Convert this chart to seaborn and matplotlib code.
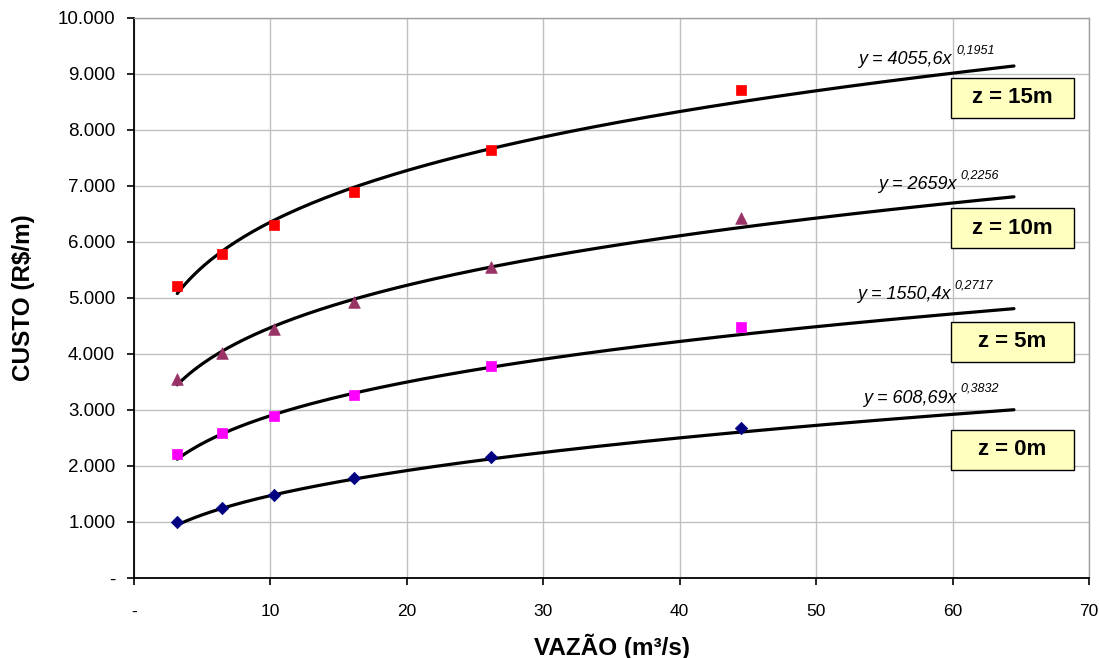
import numpy as np
import pandas as pd
import matplotlib
matplotlib.use("Agg")
import matplotlib.pyplot as plt
from matplotlib.patches import Rectangle
from matplotlib.ticker import FuncFormatter
import seaborn as sns

# ---- data ----
vazao = [3.17, 6.47, 10.26, 16.15, 26.2, 44.5]
custo_z0 = [1005, 1245, 1482, 1780, 2166, 2673]
custo_z5 = [2209, 2583, 2893, 3268, 3786, 4488]
custo_z10 = [3559, 4023, 4446, 4923, 5548, 6434]
custo_z15 = [5220, 5786, 6304, 6893, 7643, 8709]
series_names = ["z = 0m", "z = 5m", "z = 10m", "z = 15m"]
coef_a = [608.69, 1550.4, 2659, 4055.6]
coef_b = [0.3832, 0.2717, 0.2256, 0.1951]
eq_main = ["y = 608,69x", "y = 1550,4x", "y = 2659x", "y = 4055,6x"]
eq_sup = ["0,3832", "0,2717", "0,2256", "0,1951"]
trend_x_end = 64.5
x_ticks = [0, 10, 20, 30, 40, 50, 60, 70]
y_ticks = [0, 1000, 2000, 3000, 4000, 5000, 6000, 7000, 8000, 9000, 10000]

# ---- styling ----
colors = ["#000080", "#FF00FF", "#993366", "#FF0000"]
markers = ["D", "s", "^", "s"]
msizes = [40, 60, 70, 60]
eq_pos = [(53.4, 3214), (53.0, 5054), (54.5, 7018), (53.1, 9250)]
box_y = [449.7, 341.7, 228.0, 97.5]  # pixel centres

sns.set_theme(style="whitegrid")
plt.rcParams["font.family"] = ["Liberation Sans", "DejaVu Sans"]
plt.rcParams["text.color"] = "black"
plt.rcParams["axes.labelcolor"] = "black"
plt.rcParams["xtick.color"] = "black"
plt.rcParams["ytick.color"] = "black"

W, H = 1099, 658
fig = plt.figure(figsize=(W / 100, H / 100), dpi=100)
ax = fig.add_axes([134 / W, 80 / H, (1089 - 134) / W, (578 - 18) / H])
ax.set_facecolor("white")

all_y = [custo_z0, custo_z5, custo_z10, custo_z15]
rows = []
for name, ys in zip(series_names, all_y):
    for xv, yv in zip(vazao, ys):
        rows.append({"vazao": xv, "custo": yv, "serie": name})
df = pd.DataFrame(rows)

trend_rows = []
for name, a, b in zip(series_names, coef_a, coef_b):
    xs = np.linspace(vazao[0], trend_x_end, 200)
    for xv in xs:
        trend_rows.append({"vazao": xv, "custo": a * xv ** b, "serie": name})
dft = pd.DataFrame(trend_rows)

for i, name in enumerate(series_names):
    sns.lineplot(data=dft[dft.serie == name], x="vazao", y="custo", ax=ax,
                 color="black", lw=2.3, zorder=3, legend=False)
for i, name in enumerate(series_names):
    sns.scatterplot(data=df[df.serie == name], x="vazao", y="custo", ax=ax,
                    color=colors[i], marker=markers[i], s=msizes[i],
                    edgecolor=colors[i], linewidth=0.5, zorder=4, legend=False)

ax.set_xlim(0, 70)
ax.set_ylim(0, 10000)
ax.set_xticks(x_ticks)
ax.set_yticks(y_ticks)

def yfmt(v, p):
    if abs(v) < 1e-9:
        return "-"
    return f"{int(round(v)):,}".replace(",", ".")

def xfmt(v, p):
    if abs(v) < 1e-9:
        return "-"
    return f"{int(round(v))}"

ax.yaxis.set_major_formatter(FuncFormatter(yfmt))
ax.xaxis.set_major_formatter(FuncFormatter(xfmt))
ax.tick_params(axis="both", colors="black", direction="out",
               length=5, width=1.2, left=True, bottom=True)
ax.tick_params(axis="x", pad=14, labelsize=12.5)
ax.tick_params(axis="y", pad=8.5, labelsize=13.5)

ax.grid(True, color="#C0C0C0", lw=1.0)
for s in ["left", "bottom"]:
    ax.spines[s].set_color("black")
    ax.spines[s].set_linewidth(1.3)
for s in ["top", "right"]:
    ax.spines[s].set_color("#A0A0A0")
    ax.spines[s].set_linewidth(1.0)

ax.set_xlabel("VAZÃO (m³/s)", fontsize=17.5, fontweight="bold", labelpad=10,
              color="black")
ax.set_ylabel("CUSTO (R$/m)", fontsize=17.5, fontweight="bold", labelpad=16,
              color="black")

# equations
for (ex, ey), m, s in zip(eq_pos, eq_main, eq_sup):
    t = ax.text(ex, ey, m, fontsize=13, fontstyle="italic", ha="left",
                va="center", zorder=5, color="black")
    ax.annotate(s, xy=(1.0, 0.72), xycoords=t, xytext=(3, 0),
                textcoords="offset points", fontsize=9,
                fontstyle="italic", ha="left", va="bottom", zorder=5,
                color="black")

# z labels with boxes (pixel layout)
bw, bh = 123, 40
bx0 = 951
for name, cy in zip(series_names, box_y):
    x0 = bx0 / W
    y0 = (H - cy - bh / 2) / H
    fig.patches.append(Rectangle((x0, y0), bw / W, bh / H, transform=fig.transFigure,
                                 facecolor="#FFFFC0", edgecolor="black", lw=1.0,
                                 zorder=10))
    fig.text((bx0 + bw / 2) / W, (H - cy) / H, name, fontsize=16,
             fontweight="bold", ha="center", va="center", zorder=11,
             color="black")

fig.savefig("out.png", dpi=100, facecolor="white")
